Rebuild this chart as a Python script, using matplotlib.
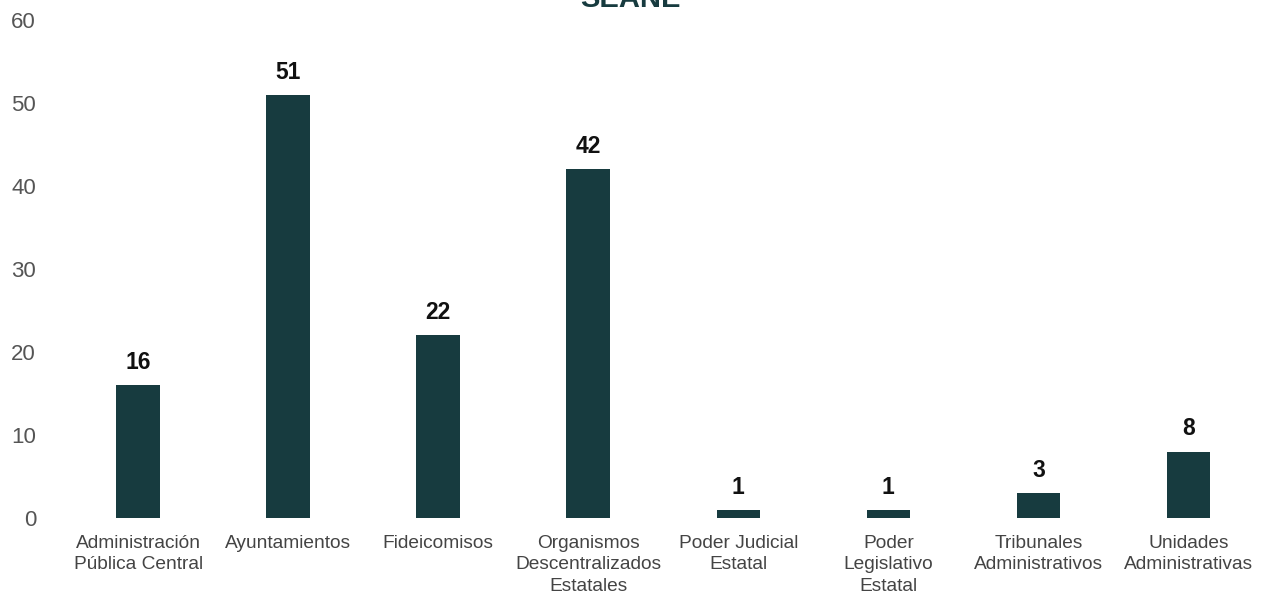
import matplotlib
matplotlib.use("Agg")
import matplotlib.pyplot as plt
import numpy as np

plt.rcParams['font.family'] = ['Liberation Sans', 'DejaVu Sans']

# datos
categorias = ["Administración\nPública Central", "Ayuntamientos", "Fideicomisos",
              "Organismos\nDescentralizados\nEstatales", "Poder Judicial\nEstatal",
              "Poder\nLegislativo\nEstatal", "Tribunales\nAdministrativos",
              "Unidades\nAdministrativas"]
valores = [16, 51, 22, 42, 1, 1, 3, 8]
yticks = [0, 10, 20, 30, 40, 50, 60]

color_barra = "#173b3f"

fig = plt.figure(figsize=(12.69, 6.03), dpi=100)
ax = fig.add_axes([50 / 1269, 1 - 518 / 603, 1215 / 1269, (518 - 20) / 603])

x = np.arange(len(categorias))
ax.bar(x, valores, width=0.29, color=color_barra)

for xi, v in zip(x, valores):
    ax.annotate(str(v), (xi, v), xytext=(0, 8), textcoords="offset points",
                ha="center", va="bottom", fontsize=16.5, fontweight="bold", color="#111111")

ax.set_xlim(-0.587, 7.51)
ax.set_ylim(0, 60)
ax.set_yticks(yticks)
ax.set_xticks(x)
ax.set_xticklabels(categorias, fontsize=13.8, color="#444444", linespacing=1.35)
ax.tick_params(axis="x", length=0, pad=12)
ax.tick_params(axis="y", length=0, pad=10, labelsize=16, labelcolor="#555555")
for s in ax.spines.values():
    s.set_visible(False)

# titulo (cortado en la parte superior)
fig.text(0.497, 1 - 7 / 603, "SEANE", ha="center", va="baseline",
         fontsize=21, fontweight="bold", color="#173b3f")

fig.savefig("out.png", dpi=100)
